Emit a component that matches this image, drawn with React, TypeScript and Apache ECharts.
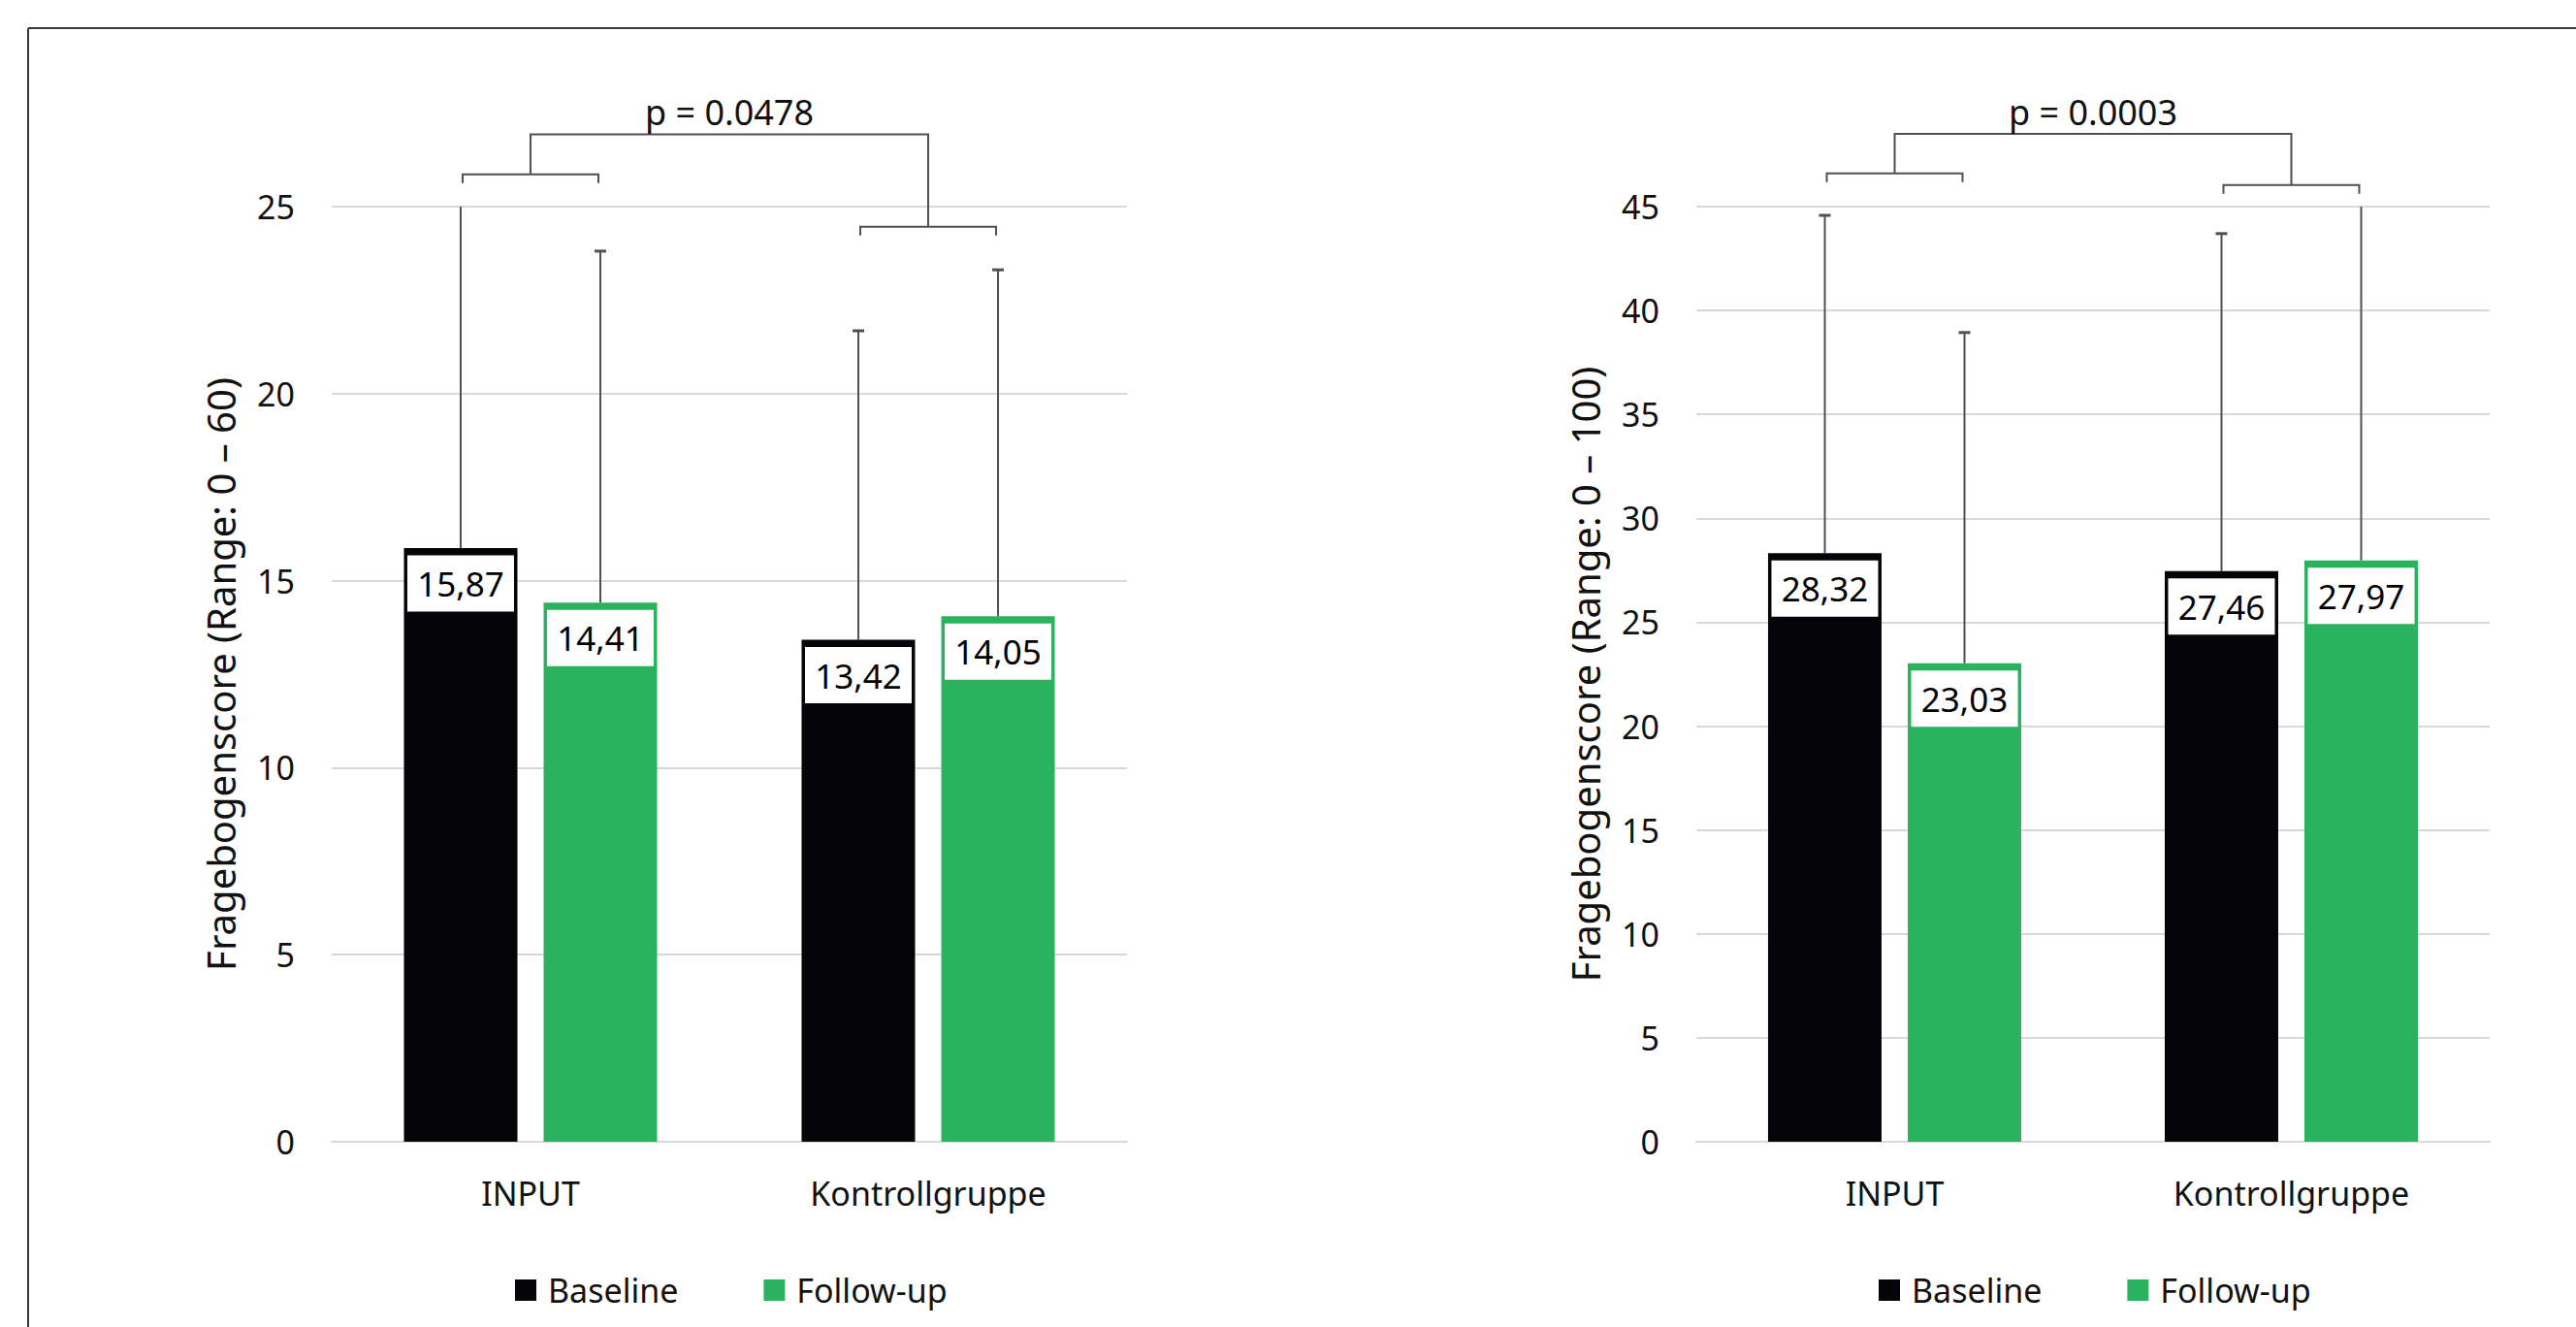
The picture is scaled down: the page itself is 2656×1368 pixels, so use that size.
import React, { useEffect, useRef } from "react";
import * as echarts from "echarts";

// ---------- data ----------
const categories = ["INPUT", "Kontrollgruppe"];
const seriesNames = ["Baseline", "Follow-up"];

// left panel (Range 0 – 60)
const leftTitle = "Fragebogenscore (Range: 0 – 60)";
const leftAxisMin = 0;
const leftAxisMax = 25;
const leftAxisStep = 5;
const leftBaseline = [15.87, 13.42];
const leftFollowUp = [14.41, 14.05];
const leftBaselineUpper = [26.2, 21.68];
const leftFollowUpUpper = [23.81, 23.31];
const leftSubBrackets = [25.86, 24.46];
const leftTopBracket = 26.93;
const leftPValue = "p = 0.0478";

// right panel (Range 0 – 100)
const rightTitle = "Fragebogenscore (Range: 0 – 100)";
const rightAxisMin = 0;
const rightAxisMax = 45;
const rightAxisStep = 5;
const rightBaseline = [28.32, 27.46];
const rightFollowUp = [23.03, 27.97];
const rightBaselineUpper = [44.58, 43.7];
const rightFollowUpUpper = [38.94, 45.6];
const rightSubBrackets = [46.6, 46.04];
const rightTopBracket = 48.5;
const rightPValue = "p = 0.0003";

// ---------- style ----------
const FONT = "'Noto Sans', sans-serif";
const BLACK = "#040409";
const GREEN = "#2bb25e";
const GRID_COLOR = "#d9d9d9";
const LINE_COLOR = "#505050";
const TEXT_COLOR = "#111111";
const BAR_W = 117;
const BAR_GAP = 27;
const HALF = (BAR_W + BAR_GAP) / 2;

const fmt = (v: number) => v.toFixed(2).replace(".", ",");

function errorRender(side: number, axisMax: number) {
  return (params: any, api: any) => {
    const cat = api.value(0);
    const mean = api.value(1);
    const hi = api.value(2);
    const clipped = hi > axisMax;
    const p0 = api.coord([cat, mean]);
    const p1 = api.coord([cat, Math.min(hi, axisMax)]);
    const x = p0[0] + side * HALF;
    const children: any[] = [
      {
        type: "line",
        shape: { x1: x, y1: p0[1], x2: x, y2: p1[1] },
        style: { stroke: LINE_COLOR, lineWidth: 2 },
      },
    ];
    if (!clipped) {
      children.push({
        type: "line",
        shape: { x1: x - 6, y1: p1[1], x2: x + 6, y2: p1[1] },
        style: { stroke: LINE_COLOR, lineWidth: 3 },
      });
    }
    return { type: "group", children };
  };
}

function bracketRender(pText: string) {
  return (params: any, api: any) => {
    const s0 = api.value(1);
    const s1 = api.value(2);
    const top = api.value(3);
    const a = api.coord([0, s0]);
    const b = api.coord([1, s1]);
    const ta = api.coord([0, top]);
    const tb = api.coord([1, top]);
    const st = { stroke: LINE_COLOR, lineWidth: 2, fill: "none" };
    const tick = 9;
    const sub = (c: number[]) => ({
      type: "polyline",
      shape: {
        points: [
          [c[0] - HALF + 2, c[1] + tick],
          [c[0] - HALF + 2, c[1]],
          [c[0] + HALF - 2, c[1]],
          [c[0] + HALF - 2, c[1] + tick],
        ],
      },
      style: st,
    });
    return {
      type: "group",
      children: [
        sub(a),
        sub(b),
        {
          type: "polyline",
          shape: { points: [[a[0], a[1]], [ta[0], ta[1]], [tb[0], tb[1]], [b[0], b[1]]] },
          style: st,
        },
        {
          type: "text",
          style: {
            text: pText,
            x: (ta[0] + tb[0]) / 2,
            y: ta[1] - 5,
            align: "center",
            verticalAlign: "bottom",
            textAlign: "center",
            textVerticalAlign: "bottom",
            fontSize: 36,
            fontFamily: FONT,
            fill: TEXT_COLOR,
          },
        },
      ],
    };
  };
}

function barSeries(name: string, data: number[], color: string, g: number) {
  return {
    type: "bar",
    name,
    xAxisIndex: g,
    yAxisIndex: g,
    data,
    barWidth: BAR_W,
    barGap: ((BAR_GAP / BAR_W) * 100).toFixed(1) + "%",
    itemStyle: { color },
    z: 3,
    label: {
      show: true,
      position: "insideTop",
      distance: 7.5,
      formatter: (p: any) => fmt(p.value),
      backgroundColor: "#ffffff",
      width: BAR_W - 7,
      height: 58,
      lineHeight: 58,
      align: "center",
      fontSize: 35,
      fontFamily: FONT,
      color: "#000000",
      padding: 0,
    },
  };
}

function errSeries(mean: number[], upper: number[], side: number, g: number, axisMax: number) {
  return {
    type: "custom",
    xAxisIndex: g,
    yAxisIndex: g,
    z: 2,
    silent: true,
    encode: { x: 0, y: 1 },
    data: mean.map((m, i) => [i, m, upper[i]]),
    renderItem: errorRender(side, axisMax),
  };
}

function bracketSeries(subs: number[], top: number, pText: string, g: number) {
  return {
    type: "custom",
    xAxisIndex: g,
    yAxisIndex: g,
    z: 4,
    silent: true,
    clip: false,
    encode: { x: 0, y: 1 },
    data: [[0, subs[0], subs[1], top]],
    renderItem: bracketRender(pText),
  };
}

function yAxis(g: number, min: number, max: number, step: number, title: string) {
  return {
    type: "value",
    gridIndex: g,
    min,
    max,
    interval: step,
    name: title,
    nameLocation: "middle",
    nameGap: 95,
    nameTextStyle: { fontSize: 40, fontFamily: FONT, color: TEXT_COLOR },
    axisLine: { show: false },
    axisTick: { show: false },
    axisLabel: { fontSize: 34, fontFamily: FONT, color: TEXT_COLOR, margin: 38 },
    splitLine: { lineStyle: { color: GRID_COLOR, width: 2 } },
  };
}

function xAxis(g: number) {
  return {
    type: "category",
    gridIndex: g,
    data: categories,
    axisLine: { lineStyle: { color: GRID_COLOR, width: 2 } },
    axisTick: { show: false },
    axisLabel: { fontSize: 34, fontFamily: FONT, color: TEXT_COLOR, margin: 36 },
  };
}

function legend(left: number) {
  return {
    data: seriesNames,
    left,
    top: 1313,
    orient: "horizontal",
    icon: "rect",
    itemWidth: 22,
    itemHeight: 22,
    itemGap: 88,
    padding: 0,
    selectedMode: false,
    textStyle: { fontSize: 34, fontFamily: FONT, color: TEXT_COLOR, padding: [0, 0, 0, 7] },
  };
}

export default function App() {
  const ref = useRef<HTMLDivElement>(null);
  useEffect(() => {
    if (!ref.current) return;
    const chart = echarts.init(ref.current, null, { renderer: "svg" });
    chart.setOption({
      animation: false,
      backgroundColor: "#ffffff",
      textStyle: { fontFamily: FONT },
      grid: [
        { left: 342, width: 820, top: 213, height: 964 },
        { left: 1749, width: 818, top: 213, height: 964 },
      ],
      xAxis: [xAxis(0), xAxis(1)],
      yAxis: [
        yAxis(0, leftAxisMin, leftAxisMax, leftAxisStep, leftTitle),
        yAxis(1, rightAxisMin, rightAxisMax, rightAxisStep, rightTitle),
      ],
      legend: [legend(531), legend(1937)],
      graphic: [
        { type: "line", shape: { x1: 29, y1: 29, x2: 2656, y2: 29 }, style: { stroke: "#3a3a3a", lineWidth: 2 } },
        { type: "line", shape: { x1: 29, y1: 29, x2: 29, y2: 1368 }, style: { stroke: "#3a3a3a", lineWidth: 2 } },
      ],
      series: [
        barSeries(seriesNames[0], leftBaseline, BLACK, 0),
        barSeries(seriesNames[1], leftFollowUp, GREEN, 0),
        errSeries(leftBaseline, leftBaselineUpper, -1, 0, leftAxisMax),
        errSeries(leftFollowUp, leftFollowUpUpper, 1, 0, leftAxisMax),
        bracketSeries(leftSubBrackets, leftTopBracket, leftPValue, 0),
        barSeries(seriesNames[0], rightBaseline, BLACK, 1),
        barSeries(seriesNames[1], rightFollowUp, GREEN, 1),
        errSeries(rightBaseline, rightBaselineUpper, -1, 1, rightAxisMax),
        errSeries(rightFollowUp, rightFollowUpUpper, 1, 1, rightAxisMax),
        bracketSeries(rightSubBrackets, rightTopBracket, rightPValue, 1),
      ],
    });
    return () => chart.dispose();
  }, []);
  return (
    <div
      ref={ref}
      style={{ position: "absolute", left: 0, top: 0, width: 2656, height: 1368, background: "#fff" }}
    />
  );
}
